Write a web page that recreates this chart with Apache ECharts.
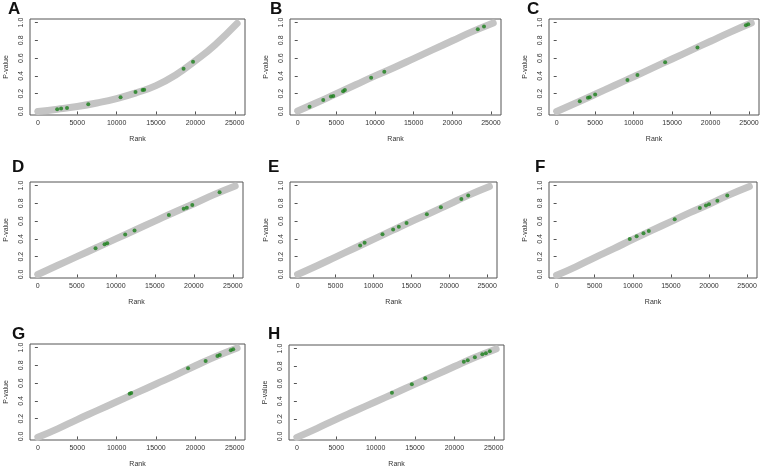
<!DOCTYPE html>
<html>
<head>
<meta charset="utf-8">
<script src="https://cdn.jsdelivr.net/npm/echarts@6/dist/echarts.min.js"></script>
<style>html,body{margin:0;padding:0;background:#fff;}#c{width:763px;height:469px;}</style>
</head>
<body>
<div id="c"></div>
<script>
// ---- data ----
const panelLabels = ['A','B','C','D','E','F','G','H'];
const xTicks = [0, 5000, 10000, 15000, 20000, 25000];
const yTicks = [0, 0.2, 0.4, 0.6, 0.8, 1.0];
const trendRank = [0, 2500, 5000, 7500, 10000, 12500, 15000, 17500, 20000, 22500, 25300];
const trendA = [0.0, 0.025, 0.055, 0.095, 0.145, 0.21, 0.29, 0.41, 0.57, 0.75, 0.99];
const trendB = [0.005, 0.10, 0.20, 0.30, 0.40, 0.495, 0.595, 0.695, 0.795, 0.895, 0.995];
const trendC = [0.0, 0.095, 0.193, 0.292, 0.39, 0.49, 0.59, 0.69, 0.79, 0.89, 0.995];
const trendD = [0.0, 0.10, 0.20, 0.30, 0.40, 0.50, 0.60, 0.70, 0.795, 0.895, 0.995];
const trendE = [0.0, 0.095, 0.195, 0.295, 0.395, 0.495, 0.595, 0.69, 0.79, 0.89, 0.99];
const trendF = [-0.01, 0.085, 0.19, 0.29, 0.395, 0.495, 0.595, 0.695, 0.79, 0.89, 0.99];
const trendG = [-0.01, 0.085, 0.19, 0.29, 0.39, 0.49, 0.59, 0.69, 0.795, 0.895, 0.995];
const trendH = [-0.01, 0.09, 0.195, 0.295, 0.395, 0.495, 0.595, 0.695, 0.795, 0.895, 0.995];

const dotRankA = [2450, 2950, 3700, 6400, 10500, 12400, 13300, 13500, 18500, 19700];
const dotPvalA = [0.026, 0.034, 0.04, 0.08, 0.16, 0.22, 0.24, 0.245, 0.48, 0.56];
const dotRankB = [1530, 3300, 4300, 4600, 5870, 6100, 9500, 11200, 23300, 24100];
const dotPvalB = [0.053, 0.13, 0.167, 0.174, 0.227, 0.242, 0.38, 0.447, 0.924, 0.955];
const dotRankC = [3000, 4060, 4300, 5000, 9200, 10500, 14100, 18300, 24600, 24900];
const dotPvalC = [0.115, 0.153, 0.16, 0.19, 0.355, 0.41, 0.553, 0.718, 0.97, 0.98];
const dotRankD = [7400, 8560, 8900, 11200, 12400, 16800, 18700, 19100, 19800, 23300];
const dotPvalD = [0.296, 0.34, 0.352, 0.45, 0.494, 0.67, 0.74, 0.75, 0.78, 0.925];
const dotRankE = [8250, 8840, 11200, 12600, 13350, 14370, 17050, 18900, 21600, 22500];
const dotPvalE = [0.326, 0.356, 0.453, 0.506, 0.536, 0.58, 0.678, 0.757, 0.85, 0.888];
const dotRankF = [9600, 10500, 11400, 12100, 15500, 18800, 19600, 20000, 21100, 22400];
const dotPvalF = [0.40, 0.43, 0.464, 0.49, 0.62, 0.747, 0.777, 0.79, 0.83, 0.887];
const dotRankG = [11650, 11860, 19070, 21300, 22800, 23100, 24500, 24800];
const dotPvalG = [0.48, 0.489, 0.767, 0.85, 0.906, 0.917, 0.97, 0.98];
const dotRankH = [12070, 14600, 16300, 21200, 21700, 22600, 23550, 24000, 24500];
const dotPvalH = [0.496, 0.595, 0.663, 0.85, 0.867, 0.90, 0.936, 0.947, 0.97];

// ---- layout ----
const trends = [trendA, trendB, trendC, trendD, trendE, trendF, trendG, trendH];
const dotRanks = [dotRankA, dotRankB, dotRankC, dotRankD, dotRankE, dotRankF, dotRankG, dotRankH];
const dotPvals = [dotPvalA, dotPvalB, dotPvalC, dotPvalD, dotPvalE, dotPvalF, dotPvalG, dotPvalH];
const boxes = [
  [30, 19, 215, 96], [290, 19, 211, 96], [549, 19, 210, 96],
  [30, 182, 213, 96], [290, 182, 207, 96], [549, 182, 208, 96],
  [30, 344, 215, 96], [289, 345, 215, 96]
];
const letterPos = [[8, 1], [270, 1], [527, 1], [12, 159], [268, 159], [535, 159], [12, 326], [268, 326]];
const FONT = 'Liberation Sans, Arial, sans-serif';

const grid = [], xAxis = [], yAxis = [], series = [], title = [];
boxes.forEach((b, i) => {
  grid.push({left: b[0], top: b[1], width: b[2], height: b[3], show: true,
    borderColor: '#555', borderWidth: 1, backgroundColor: 'rgba(0,0,0,0)', containLabel: false});
  xAxis.push({type: 'value', gridIndex: i, min: -1000, max: 26300,
    name: 'Rank', nameLocation: 'middle', nameGap: 21,
    nameTextStyle: {fontFamily: FONT, fontSize: 7, color: '#333'},
    axisLine: {show: false}, splitLine: {show: false},
    axisTick: {show: true, length: 3, customValues: xTicks, lineStyle: {color: '#555'}},
    axisLabel: {customValues: xTicks, fontFamily: FONT, fontSize: 7, color: '#333', margin: 5,
      formatter: v => String(Math.round(v))}});
  yAxis.push({type: 'value', gridIndex: i, min: -0.04, max: 1.04,
    name: 'P-value', nameLocation: 'middle', nameGap: 20, nameRotate: 90,
    nameTextStyle: {fontFamily: FONT, fontSize: 7, color: '#333'},
    axisLine: {show: false}, splitLine: {show: false},
    axisTick: {show: true, length: 3, customValues: yTicks, lineStyle: {color: '#555'}},
    axisLabel: {customValues: yTicks, rotate: 90, fontFamily: FONT, fontSize: 7, color: '#333', margin: 5,
      formatter: v => Number(v).toFixed(1)}});
  series.push({type: 'line', xAxisIndex: i, yAxisIndex: i, smooth: true, symbol: 'none',
    lineStyle: {color: '#c4c4c4', width: 7, cap: 'round'},
    data: trendRank.map((r, k) => [r, trends[i][k]]), silent: true, z: 2});
  series.push({type: 'scatter', xAxisIndex: i, yAxisIndex: i, symbol: 'circle', symbolSize: 4,
    itemStyle: {color: '#1a7f1a'},
    data: dotRanks[i].map((r, k) => [r, dotPvals[i][k]]), silent: true, z: 3});
  title.push({text: panelLabels[i], left: letterPos[i][0], top: letterPos[i][1],
    textStyle: {fontFamily: FONT, fontSize: 17, fontWeight: 'bold', color: '#111'}, padding: 0});
});

const chart = echarts.init(document.getElementById('c'), null, {renderer: 'canvas'});
chart.setOption({animation: false, backgroundColor: '#fff', title, grid, xAxis, yAxis, series});
</script>
</body>
</html>
